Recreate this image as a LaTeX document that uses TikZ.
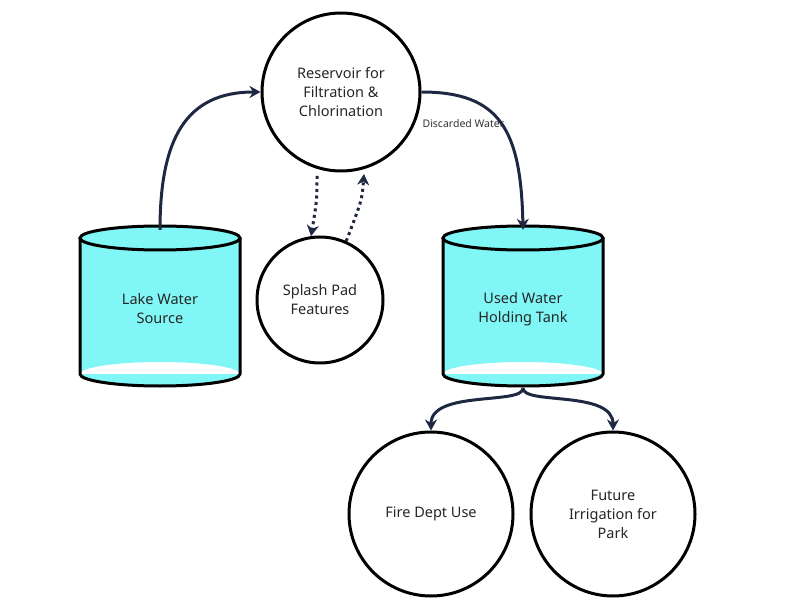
\documentclass[tikz,border=0pt]{standalone}
\usepackage{fontspec}
\setmainfont{Noto Sans}
\usetikzlibrary{arrows.meta}
\definecolor{tankfill}{HTML}{80F6F6}
\definecolor{navy}{HTML}{1E2842}
% tank body: centre x, top y, bottom y
\newcommand{\drawtank}[3]{%
  \fill[fill=tankfill] (#1-80,#2) rectangle (#1+80,#3) (#1,#3) ellipse[x radius=80,y radius=12];
  \draw[tankline,fill=tankfill] (#1,#2) ellipse[x radius=80,y radius=12];
  \draw[tankline] (#1-80,#2) -- (#1-80,#3) arc[start angle=180,end angle=0,x radius=80,y radius=12] -- (#1+80,#2);}
\begin{document}
\begin{tikzpicture}[x=1pt,y=-1pt,
  txt/.style={font=\fontsize{14.5}{19}\selectfont,align=center,text=black!85},
  pool/.style={circle,draw=black,line width=3pt,minimum size=#1,txt},
  tankline/.style={draw=black,line width=3pt},
  vessel/.style={minimum width=160pt,minimum height=158pt,txt},
  flow/.style={navy,line width=3pt,-{Stealth[length=11pt,width=12pt]}},
  seep/.style={flow,dash pattern=on 3pt off 3.5pt}]
\useasboundingbox (0,0) rectangle (792,612);
\drawtank{160}{238}{374}
\drawtank{523}{238}{374}
\node[pool=158pt] (res) at (341,92) {Reservoir for\\Filtration \&\\Chlorination};
\node[pool=126pt] (pad) at (320,300) {Splash Pad\\Features};
\node[pool=164pt] (fire) at (431,514) {Fire Dept Use};
\node[pool=164pt] (irr) at (613,514) {Future\\Irrigation for\\Park};
\node[vessel] (lake) at (160,309) {Lake Water\\Source};
\node[vessel] (used) at (523,309) {Used Water\\Holding Tank};

% flows between parts
\draw[flow] (lake.north) .. controls (160,140) and (185,92) .. (res.west);
\draw[flow] (res.east) .. controls (500,92) and (521,130) .. (used.north)
  node[pos=0.5,left=-8pt,font=\fontsize{10.5}{12}\selectfont,text=black!80] {Discarded Water};
\draw[seep] (317,176) .. controls (317,200) .. (pad.98);
\draw[seep] (pad.66) .. controls (362,200) .. (364,174);
\draw[flow] (used.south) .. controls (523,405) and (431,390) .. (fire.north);
\draw[flow] (used.south) .. controls (523,405) and (613,390) .. (irr.north);
\end{tikzpicture}
\end{document}
